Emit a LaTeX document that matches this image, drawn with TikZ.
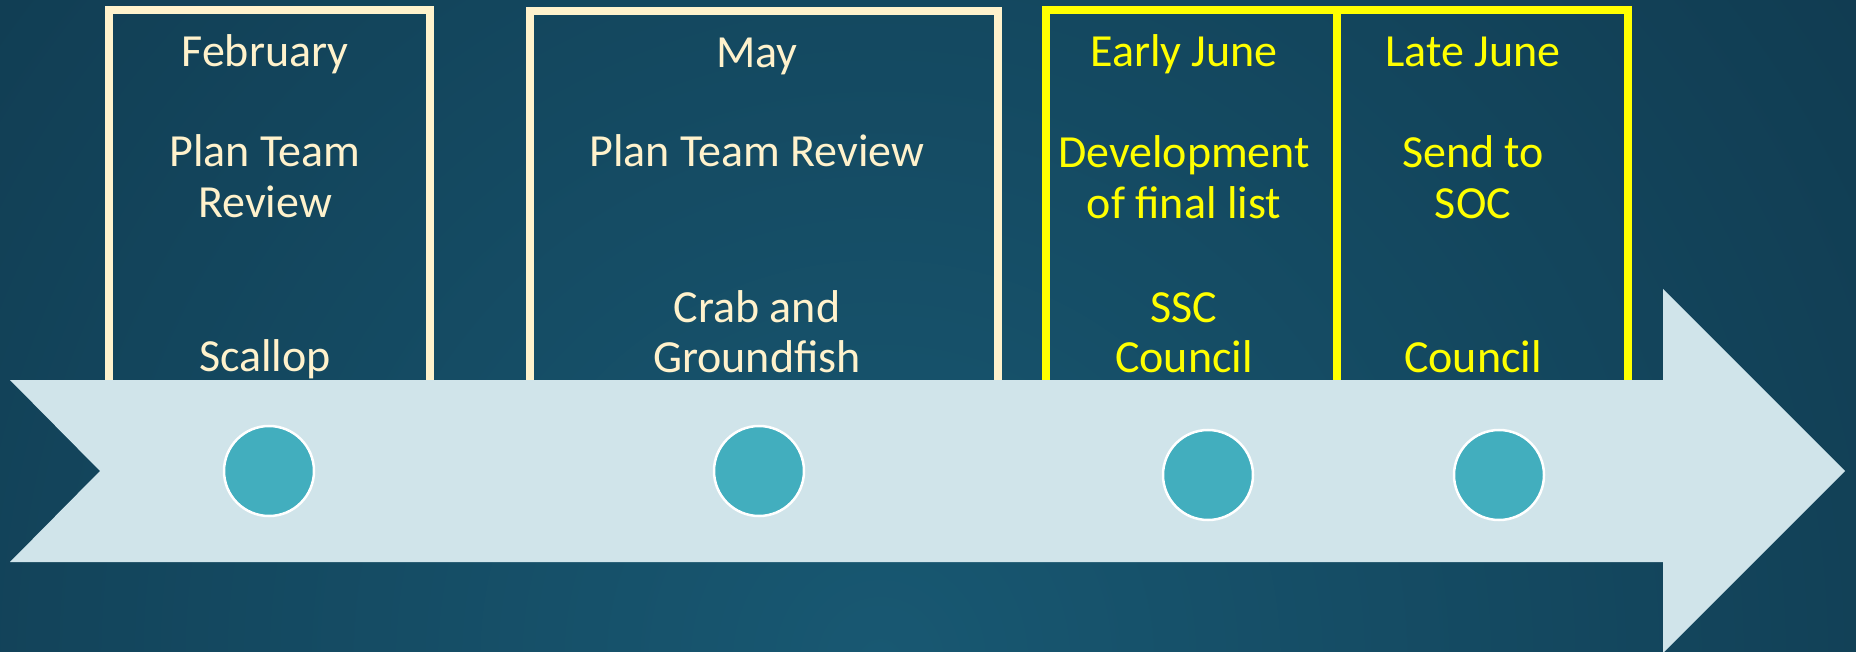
\documentclass[tikz,border=0pt]{standalone}
\usepackage{fontspec}
\setmainfont{Carlito}
\definecolor{bgdark}{HTML}{0E3246}
\definecolor{bglight}{HTML}{185872}
\definecolor{cream}{HTML}{FFF2CC}
\definecolor{hiyel}{HTML}{FFFF00}
\definecolor{arrowfill}{HTML}{D0E4EA}
\definecolor{dotfill}{HTML}{42AEBE}
\tikzset{
  creambox/.style={draw=cream, line width=8pt},
  yelbox/.style={draw=hiyel, line width=8pt},
  lbl/.style={anchor=base, inner sep=0pt, font=\fontsize{46}{51}\selectfont},
  creamtxt/.style={lbl, text=cream},
  yeltxt/.style={lbl, text=hiyel},
  dot/.style={circle, fill=dotfill, draw=white, line width=2.5pt, minimum size=90pt, inner sep=0pt},
}
\begin{document}
\begin{tikzpicture}[x=1pt, y=-1pt]
\useasboundingbox (0,0) rectangle (1856,652);
% background
\fill[bgdark] (0,0) rectangle (1856,652);
\begin{scope}
  \clip (0,0) rectangle (1856,652);
  \shade[inner color=bglight, outer color=bgdark] (880,660) circle (1600);
\end{scope}
% boxes
\draw[creambox] (109,10) rectangle (430,395);
\draw[creambox] (530,11) rectangle (998,395);
\draw[yelbox] (1046,10) rectangle (1337,395);
\draw[yelbox] (1337,10) rectangle (1628,395);
% February
\node[creamtxt] (f1) at (265,67) {February};
\node[creamtxt] (f2) at (265,167) {Plan Team};
\node[creamtxt] (f3) at (265,218) {Review};
\node[creamtxt] (f4) at (265,372) {Scallop};
% May
\node[creamtxt] (m1) at (757,68) {May};
\node[creamtxt] (m2) at (757,167) {Plan Team Review};
\node[creamtxt] (m3) at (757,323) {Crab and};
\node[creamtxt] (m4) at (757,373) {Groundfish};
% Early June
\node[yeltxt] (e1) at (1184,67) {Early June};
\node[yeltxt] (e2) at (1184,168) {Development};
\node[yeltxt] (e3) at (1184,219) {of final list};
\node[yeltxt] (e4) at (1184,323) {SSC};
\node[yeltxt] (e5) at (1184,373) {Council};
% Late June
\node[yeltxt] (l1) at (1473,67) {Late June};
\node[yeltxt] (l2) at (1473,168) {Send to};
\node[yeltxt] (l3) at (1473,219) {SOC};
\node[yeltxt] (l4) at (1473,373) {Council};
% arrow
\fill[arrowfill] (10,380) -- (1663,380) -- (1663,289) -- (1845,471) -- (1663,653)
  -- (1663,562) -- (10,562) -- (100,471) -- cycle;
% dots
\node[dot] (d1) at (269,471) {};
\node[dot] (d2) at (759,471) {};
\node[dot] (d3) at (1208,475) {};
\node[dot] (d4) at (1499,475) {};
\end{tikzpicture}
\end{document}
